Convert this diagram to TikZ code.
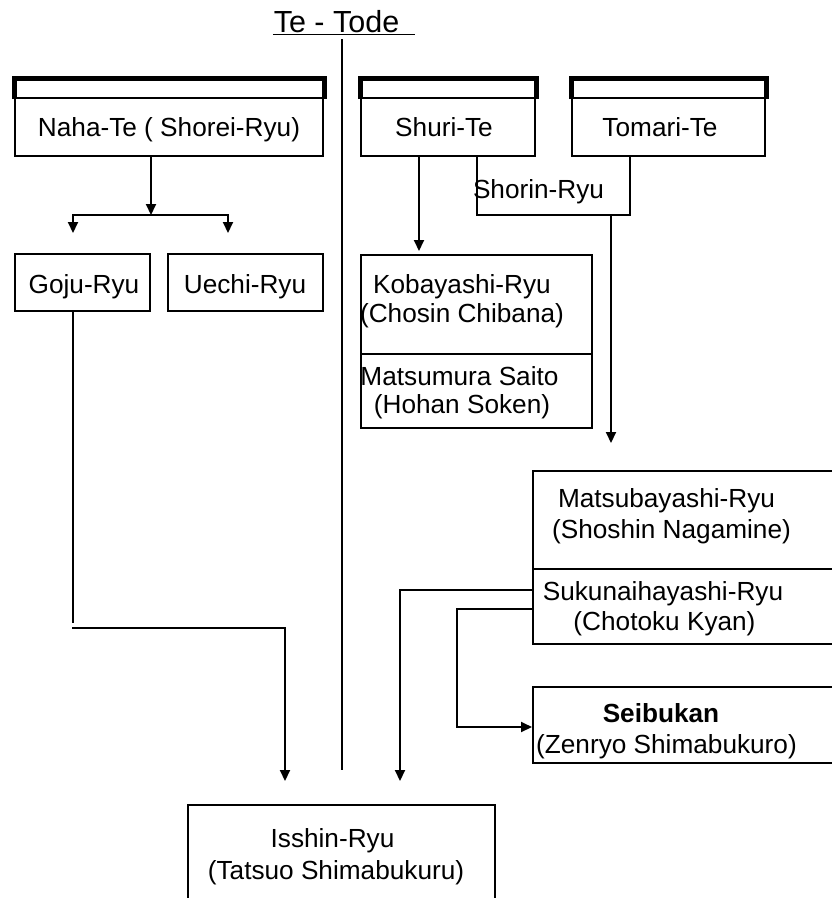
\documentclass[tikz,border=0pt]{standalone}
\usepackage{fontspec}
\setmainfont{Liberation Sans}
\usetikzlibrary{arrows.meta,fit}
\begin{document}
\begin{tikzpicture}[x=1pt,y=-1pt,line width=2pt,
  box/.style={draw,line width=2pt,inner sep=0pt,fit={#1}},
  thickhead/.style={line width=5pt,line join=miter},
  lab/.style={anchor=base,inner sep=0pt,font=\fontsize{26.2}{30}\selectfont},
  arr/.style={-{Triangle[width=10pt,length=11pt]}}]
\useasboundingbox (0,0) rectangle (832,898);
\clip (0,0) rectangle (832,898);

% title
\node[lab,font=\fontsize{30.5}{34}\selectfont] (title) at (336.5,32) {Te - Tode};
\draw[line width=1.5pt] ([yshift=-2.5pt]title.base west) -- ++(142,0);

% top boxes
\node[box={(15,79.5) (323,98)}] (nahah) {};
\draw[thickhead] (nahah.south west) -- (nahah.north west) -- (nahah.north east) -- (nahah.south east);
\node[box={(15,98) (323,156)}] (naha) {};
\node[lab] (nahat) at (169,136) {Naha-Te ( Shorei-Ryu)};

\node[box={(361,79.5) (535,98)}] (shurih) {};
\draw[thickhead] (shurih.south west) -- (shurih.north west) -- (shurih.north east) -- (shurih.south east);
\node[box={(361,98) (535,156)}] (shuri) {};
\node[lab] (shurit) at (444,136) {Shuri-Te};

\node[box={(572,79.5) (765,98)}] (tomarih) {};
\draw[thickhead] (tomarih.south west) -- (tomarih.north west) -- (tomarih.north east) -- (tomarih.south east);
\node[box={(572,98) (765,156)}] (tomari) {};
\node[lab] (tomarit) at (660,136) {Tomari-Te};

% left boxes
\node[box={(15,254) (150,311)}] (goju) {};
\node[lab] (gojut) at (84,293) {Goju-Ryu};
\node[box={(168,254) (323,311)}] (uechi) {};
\node[lab] (uechit) at (245,293) {Uechi-Ryu};

% Kobayashi / Matsumura
\node[box={(361,255) (592,354)}] (kob) {};
\node[lab] (kobt1) at (462,293) {Kobayashi-Ryu};
\node[lab] (kobt2) at (462,322) {(Chosin Chibana)};
\node[box={(361,354) (592,428)}] (mat) {};
\node[lab] (matt1) at (459.5,385) {Matsumura Saito};
\node[lab] (matt2) at (462,413) {(Hohan Soken)};

% Matsubayashi / Sukunaihayashi
\node[box={(533,471) (850,569)}] (matsub) {};
\node[lab] (matsubt1) at (666.5,507) {Matsubayashi-Ryu};
\node[lab] (matsubt2) at (671.5,538) {(Shoshin Nagamine)};
\node[box={(533,569) (850,644)}] (suku) {};
\node[lab] (sukut1) at (663,600) {Sukunaihayashi-Ryu};
\node[lab] (sukut2) at (664.5,630) {(Chotoku Kyan)};

% Seibukan
\node[box={(533,687) (850,763)}] (seib) {};
\node[lab] (seibt1) at (661,722) {\textbf{Seibukan}};
\node[lab] (seibt2) at (666.5,753) {(Zenryo Shimabukuro)};

% Isshin
\node[box={(188,805) (495,925)}] (isshin) {};
\node[lab] (isshint1) at (332.5,847) {Isshin-Ryu};
\node[lab] (isshint2) at (336,879) {(Tatsuo Shimabukuru)};

% Shorin label
\node[lab,anchor=base west] (shorin) at (472,198) {Shorin-Ryu};

% divider
\coordinate (d1) at (342,39);
\coordinate (d2) at (342,770);
\draw (d1) -- (d2);

% Naha branching
\coordinate (nj) at (151,215);
\coordinate (bl) at (73,215);
\coordinate (br) at (228,215);
\draw[arr] (naha.south -| nj) -- (nj);
\draw[arr,shorten >=20pt] (br) -- (bl) -- (goju.north -| bl);
\draw[arr,shorten >=20pt] (bl) -- (br) -- (uechi.north -| br);

% Goju to Isshin
\coordinate (g1) at (73,623);
\draw (goju.south -| g1) -- (g1);
\coordinate (g2) at (72,628);
\coordinate (g3) at (285,628);
\draw[arr,shorten >=23pt] (g2) -- (g3) -- (isshin.north -| g3);

% Shuri to Kobayashi
\coordinate (k1) at (419,156);
\draw[arr,shorten >=3pt] (shuri.south -| k1) -- (kob.north -| k1);

% Shorin U
\coordinate (u1) at (477,215);
\coordinate (u2) at (630,215);
\draw (shuri.south -| u1) -- (u1) -- (u2) -- (tomari.south -| u2);
\coordinate (u3) at (611,215);
\draw[arr,shorten >=27pt] (u3) -- (matsub.north -| u3);

% Sukunaihayashi connectors
\coordinate (s1) at (400,590);
\draw[arr,shorten >=23pt] (suku.west |- s1) -- (s1) -- (isshin.north -| s1);
\coordinate (s2) at (457,609);
\coordinate (s3) at (457,727);
\draw[arr] (suku.west |- s2) -- (s2) -- (s3) -- (seib.west |- s3);
\end{tikzpicture}
\end{document}
